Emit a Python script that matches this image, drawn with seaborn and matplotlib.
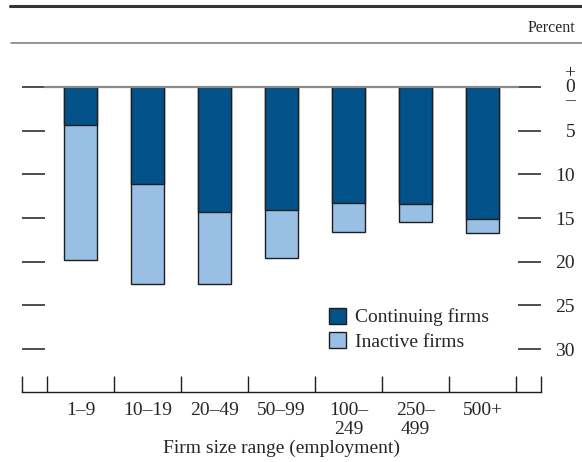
import numpy as np
import pandas as pd
import seaborn as sns
import matplotlib.pyplot as plt
from matplotlib.lines import Line2D

# firm size groups and shares (percent, plotted downward)
sizes = ['1–9', '10–19', '20–49', '50–99', '100–\n249', '250–\n499', '500+']
continuing = [4.4, 11.1, 14.3, 14.1, 13.3, 13.4, 15.1]
inactive = [15.4, 11.5, 8.2, 5.5, 3.3, 2.1, 1.6]
y_ticks = [0, 5, 10, 15, 20, 25, 30]
y_labels = ['+\n0\n–', '5', '10', '15', '20', '25', '30']

dark_blue = '#03528a'
light_blue = '#9abfe5'
edge = '#1e1e1e'
fs = 14

sns.set_style('white')
plt.rcParams['font.family'] = ['Liberation Serif', 'DejaVu Serif']

df = pd.DataFrame({'size': sizes, 'continuing': continuing, 'inactive': inactive})
df['total'] = df['continuing'] + df['inactive']

W, H = 582, 462
fig = plt.figure(figsize=(W / 100, H / 100), dpi=100)
ax = fig.add_axes([22 / W, 1 - 392 / H, (541 - 22) / W, (392 - 43) / H])

sns.barplot(data=df, x='size', y='total', color=light_blue, saturation=1, width=0.5,
            edgecolor=edge, linewidth=1, ax=ax, label='Inactive firms', zorder=2)
sns.barplot(data=df, x='size', y='continuing', color=dark_blue, saturation=1, width=0.5,
            edgecolor=edge, linewidth=1, ax=ax, label='Continuing firms', zorder=2)

xl = (-0.5 - 25 / 67, 6.5 + 25 / 67)
ax.set_xlim(*xl)
ax.set_ylim(34.9, -5.03)

# zero line
ax.axhline(0, xmin=(45 - 22) / 519, xmax=(518 - 22) / 519, color='#8a8a8a', lw=1.6, zorder=3)

for s in ['top', 'left', 'right']:
    ax.spines[s].set_visible(False)
ax.spines['bottom'].set_color(edge)
ax.spines['bottom'].set_linewidth(1)

# x axis
ax.set_xticks(range(len(sizes)))
ax.set_xticklabels(sizes)
ax.tick_params(axis='x', which='major', length=0, pad=7, labelsize=fs)
ax.set_xticks([xl[0]] + [i - 0.5 for i in range(len(sizes) + 1)] + [xl[1]], minor=True)
ax.tick_params(axis='x', which='minor', bottom=True, direction='in', length=11.5,
               width=1, color=edge)
ax.set_xlabel('Firm size range (employment)', fontsize=fs, labelpad=1)
ax.set_ylabel('')

# y axis, ticks on both sides, labels at right
ax.set_yticks(y_ticks)
ax.set_yticklabels(y_labels)
ax.yaxis.set_ticks_position('both')
ax.tick_params(axis='y', direction='in', length=16.5, width=1.1, color=edge,
               labelleft=False, labelright=True, pad=24.5, labelsize=fs)
for t in ax.yaxis.get_major_ticks():
    t.label2.set_horizontalalignment('right')
    t.label2.set_linespacing(0.72)

# header rules and unit
fig.add_artist(Line2D([10 / W, 1], [1 - 6 / H] * 2, color='#333333', lw=2.2))
fig.add_artist(Line2D([11 / W, 1], [1 - 43 / H] * 2, color='#777777', lw=1.1))
fig.text(575 / W, 1 - 28 / H, 'Percent', ha='right', va='center', fontsize=11.5)

handles, labels = ax.get_legend_handles_labels()
ax.legend(handles[::-1], labels[::-1], loc='upper left',
          bbox_to_anchor=(329 / W, 1 - 308 / H), bbox_transform=fig.transFigure,
          frameon=False, fontsize=fs, handlelength=0.85, handleheight=0.85,
          handletextpad=0.5, labelspacing=0.3, borderpad=0, borderaxespad=0)

fig.savefig('out.png', dpi=100)
